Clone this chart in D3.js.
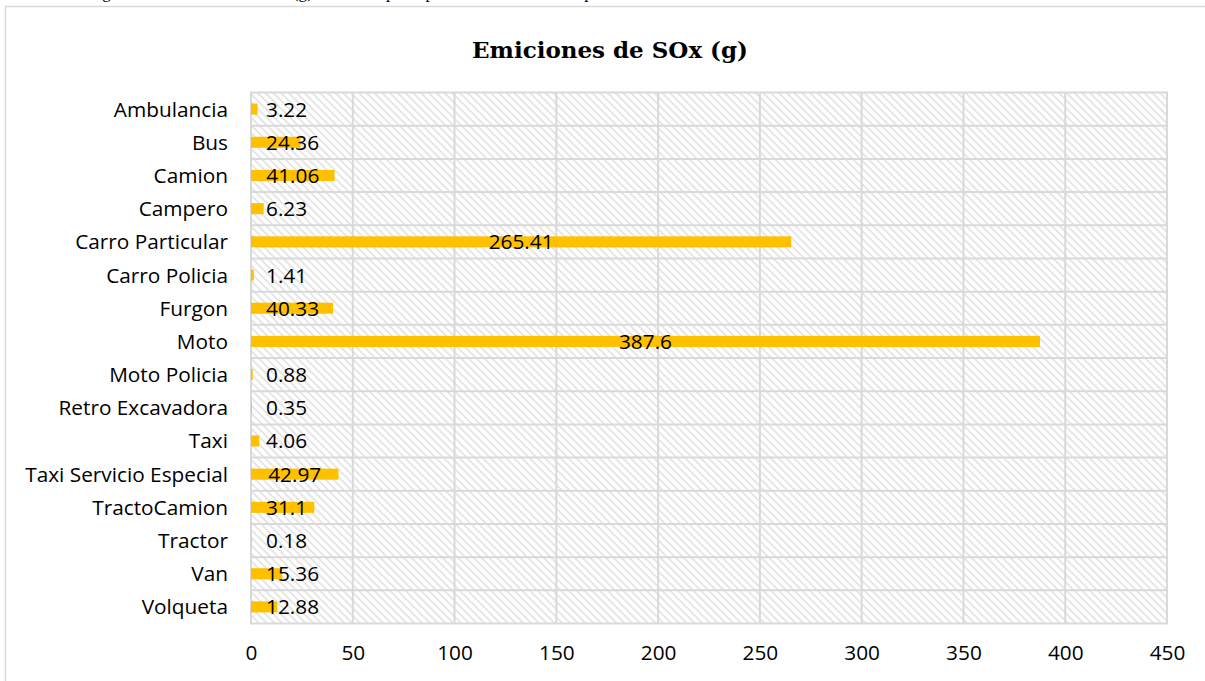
<!DOCTYPE html>
<html>
<head>
<meta charset="utf-8">
<script src="https://cdn.jsdelivr.net/npm/d3@7"></script>
<style>
  html, body { margin: 0; padding: 0; background: #fff; }
  svg { display: block; }
</style>
</head>
<body>
<svg id="chart" width="1205" height="681"></svg>
<script>
// Vehicle categories and their SOx emissions (grams)
const categories = [
  "Ambulancia", "Bus", "Camion", "Campero", "Carro Particular", "Carro Policia",
  "Furgon", "Moto", "Moto Policia", "Retro Excavadora", "Taxi",
  "Taxi Servicio Especial", "TractoCamion", "Tractor", "Van", "Volqueta"
];
const soxValues = [
  3.22, 24.36, 41.06, 6.23, 265.41, 1.41,
  40.33, 387.6, 0.88, 0.35, 4.06,
  42.97, 31.1, 0.18, 15.36, 12.88
];
const xTicks = [0, 50, 100, 150, 200, 250, 300, 350, 400, 450];
const chartTitle = "Emiciones de SOx (g)";
const captionText = "Figura 13. Emiciones de SOx (g). En la vía principal de acceso al municipio.";

const svg = d3.select("#chart");
const W = 1205, H = 681;
const plot = { left: 251, right: 1167, top: 92.5, bottom: 623.5 };

const x = d3.scaleLinear().domain([0, 450]).range([plot.left, plot.right]);
const y = d3.scaleBand().domain(categories).range([plot.top, plot.bottom]).padding(0);

// Document caption above the chart frame (runs off the page top)
svg.append("text")
  .attr("x", 88).attr("y", -2)
  .attr("font-family", "Liberation Serif, serif")
  .attr("font-size", 17)
  .attr("fill", "#000")
  .text(captionText);

// Chart frame
svg.append("rect")
  .attr("x", 5.5).attr("y", 6.5)
  .attr("width", W + 20).attr("height", H + 20)
  .attr("fill", "#fff")
  .attr("stroke", "#d9d9d9").attr("stroke-width", 1.5);

// Diagonal hatch fill for the plot area
const defs = svg.append("defs");
const pat = defs.append("pattern")
  .attr("id", "hatch")
  .attr("patternUnits", "userSpaceOnUse")
  .attr("width", 5.5).attr("height", 5.5)
  .attr("patternTransform", "rotate(-45)");
pat.append("rect").attr("width", 5.5).attr("height", 5.5).attr("fill", "#fff");
pat.append("line")
  .attr("x1", 1).attr("y1", 0).attr("x2", 1).attr("y2", 5.5)
  .attr("stroke", "#dadada").attr("stroke-width", 1.3);

svg.append("rect")
  .attr("x", plot.left).attr("y", plot.top)
  .attr("width", plot.right - plot.left).attr("height", plot.bottom - plot.top)
  .attr("fill", "url(#hatch)");

// Gridlines: vertical at ticks, horizontal at category boundaries
const grid = svg.append("g").attr("stroke", "#d9d9d9").attr("stroke-width", 2);
grid.selectAll("line.v").data(xTicks).join("line")
  .attr("class", "v")
  .attr("x1", d => x(d)).attr("x2", d => x(d))
  .attr("y1", plot.top).attr("y2", plot.bottom);
const boundaries = categories.map(c => y(c)).concat([plot.bottom]);
grid.selectAll("line.h").data(boundaries).join("line")
  .attr("class", "h")
  .attr("x1", plot.left - 1).attr("x2", plot.right + 1)
  .attr("y1", d => d).attr("y2", d => d);

// Bars (gap width 200% → bar is a third of the band)
const barH = y.bandwidth() / 3;
svg.append("g").selectAll("rect").data(categories).join("rect")
  .attr("x", x(0))
  .attr("y", (d) => y(d) + y.bandwidth() / 2 - barH / 2)
  .attr("width", (d, i) => x(soxValues[i]) - x(0))
  .attr("height", barH)
  .attr("fill", "#ffc000");

const labelFont = "'Open Sans', Lato, sans-serif";
const labelSize = 20.8;

// Data labels, centred on the bar but kept clear of the axis
const labels = svg.append("g")
  .attr("font-family", labelFont)
  .attr("font-size", labelSize)
  .attr("fill", "#000");
categories.forEach((c, i) => {
  const v = soxValues[i];
  const t = labels.append("text")
    .attr("y", y(c) + y.bandwidth() / 2)
    .attr("dy", "0.36em")
    .attr("text-anchor", "middle")
    .text(String(v));
  const w = t.node().getComputedTextLength();
  const cx = Math.max((x(0) + x(v)) / 2, plot.left + 15 + w / 2);
  t.attr("x", cx);
});

// Category axis labels
svg.append("g")
  .attr("font-family", labelFont)
  .attr("font-size", labelSize)
  .attr("fill", "#000")
  .attr("text-anchor", "end")
  .selectAll("text").data(categories).join("text")
  .attr("x", plot.left - 23)
  .attr("y", d => y(d) + y.bandwidth() / 2)
  .attr("dy", "0.36em")
  .text(d => d);

// Value axis tick labels
const xAxis = d3.axisBottom(x).tickValues(xTicks).tickSize(0).tickPadding(0).tickFormat(d3.format("d"));
const gx = svg.append("g").attr("transform", `translate(0,${plot.bottom + 22})`).call(xAxis);
gx.select(".domain").remove();
gx.selectAll("text")
  .attr("font-family", labelFont)
  .attr("font-size", labelSize)
  .attr("fill", "#000")
  .attr("dy", "0.71em");

// Title
svg.append("text")
  .attr("x", 610).attr("y", 58)
  .attr("text-anchor", "middle")
  .attr("font-family", "DejaVu Serif, serif")
  .attr("font-weight", "bold")
  .attr("font-size", 23)
  .attr("fill", "#000")
  .text(chartTitle);
</script>
</body>
</html>
